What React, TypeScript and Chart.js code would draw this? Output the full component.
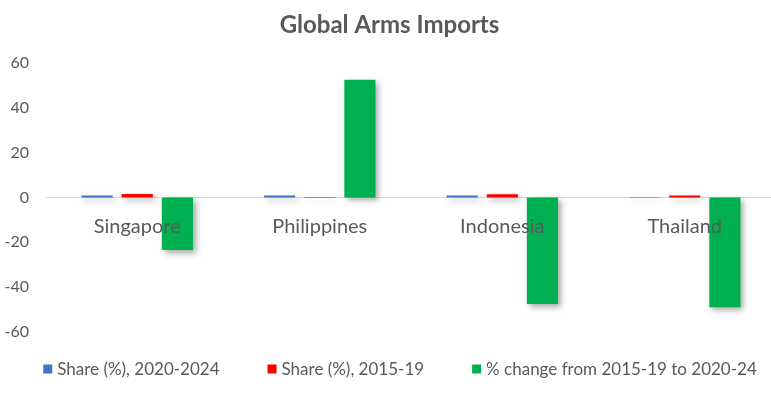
import React, { useEffect, useRef } from "react";
import { Chart, registerables } from "chart.js";

Chart.register(...registerables);

const countries = ["Singapore", "Philippines", "Indonesia", "Thailand"];
const share2020to24 = [0.9, 0.8, 0.9, 0.2];
const share2015to19 = [1.5, 0.2, 1.4, 0.8];
const changePct = [-23.5, 52.5, -47.5, -49];

const seriesNames = ["Share (%), 2020-2024", "Share (%), 2015-19", "% change from 2015-19 to 2020-24"];
const seriesColors = ["#4472C4", "#FF0000", "#00B050"];

const FONT = "Lato, 'Open Sans', sans-serif";
const GREY = "#595959";

// soft drop shadow like the office chart
const shadowPlugin = {
  id: "barShadow",
  beforeDatasetsDraw(chart: Chart) {
    const ctx = chart.ctx;
    ctx.save();
    ctx.shadowColor = "rgba(0,0,0,0.35)";
    ctx.shadowBlur = 6;
    ctx.shadowOffsetX = 3;
    ctx.shadowOffsetY = 3;
  },
  afterDatasetsDraw(chart: Chart) {
    chart.ctx.restore();
  },
};

// legend row with wide gaps between entries (built-in legend ties gap to vertical padding)
const legendPlugin = {
  id: "wideLegend",
  afterDraw(chart: Chart) {
    const ctx = chart.ctx;
    const box = 9;
    const textGap = 5;
    const itemGap = 48;
    const y = chart.chartArea.bottom + 37;
    ctx.save();
    ctx.font = `17px ${FONT}`;
    ctx.textBaseline = "middle";
    ctx.textAlign = "left";
    const items = chart.data.datasets.map((ds) => ({
      text: String(ds.label),
      color: String(ds.backgroundColor),
      w: box + textGap + ctx.measureText(String(ds.label)).width,
    }));
    const total = items.reduce((s, it) => s + it.w, 0) + itemGap * (items.length - 1);
    let x = 400 - total / 2;
    items.forEach((it) => {
      ctx.fillStyle = it.color;
      ctx.fillRect(x, y - box / 2, box, box);
      ctx.fillStyle = GREY;
      ctx.fillText(it.text, x + box + textGap, y + 1);
      x += it.w + itemGap;
    });
    ctx.restore();
  },
};

const App: React.FC = () => {
  const canvasRef = useRef<HTMLCanvasElement | null>(null);
  const chartRef = useRef<Chart | null>(null);

  useEffect(() => {
    const ctx = canvasRef.current?.getContext("2d");
    if (!ctx) return;
    if (chartRef.current) chartRef.current.destroy();

    const values = [share2020to24, share2015to19, changePct];

    chartRef.current = new Chart(ctx, {
      type: "bar",
      data: {
        labels: countries,
        datasets: values.map((v, i) => ({
          label: seriesNames[i],
          data: v,
          backgroundColor: seriesColors[i],
          borderWidth: 0,
          categoryPercentage: 0.66,
          barPercentage: 0.775,
        })),
      },
      options: {
        animation: false,
        responsive: true,
        maintainAspectRatio: false,
        layout: { padding: { left: 3, right: 4, top: 0, bottom: 75 } },
        plugins: {
          title: {
            display: true,
            text: "Global Arms Imports",
            color: GREY,
            font: { family: FONT, size: 24, weight: "bold" },
            padding: { top: 11, bottom: 23 },
          },
          legend: { display: false },
          tooltip: { enabled: false },
        },
        scales: {
          x: {
            position: { y: 0 } as any,
            grid: { display: false, drawTicks: true, tickLength: 17 },
            border: { display: true, color: "#D9D9D9", width: 1 },
            ticks: {
              z: 1,
              color: GREY,
              padding: 0,
              font: { family: FONT, size: 20 },
            },
          },
          y: {
            min: -60,
            max: 60,
            afterFit: (scale: any) => {
              scale.width = 43;
            },
            grid: { display: false, drawTicks: false },
            border: { display: false },
            ticks: {
              stepSize: 20,
              color: GREY,
              padding: 17,
              font: { family: FONT, size: 16 },
            },
          },
        },
      },
      plugins: [shadowPlugin, legendPlugin],
    });

    return () => {
      if (chartRef.current) {
        chartRef.current.destroy();
        chartRef.current = null;
      }
    };
  }, []);

  return (
    <div style={{ position: "fixed", left: 0, top: 0, width: 771, height: 407, overflow: "hidden", background: "#fff" }}>
      <div style={{ position: "relative", width: 780, height: 407 }}>
        <canvas ref={canvasRef}></canvas>
      </div>
    </div>
  );
};

export default App;
